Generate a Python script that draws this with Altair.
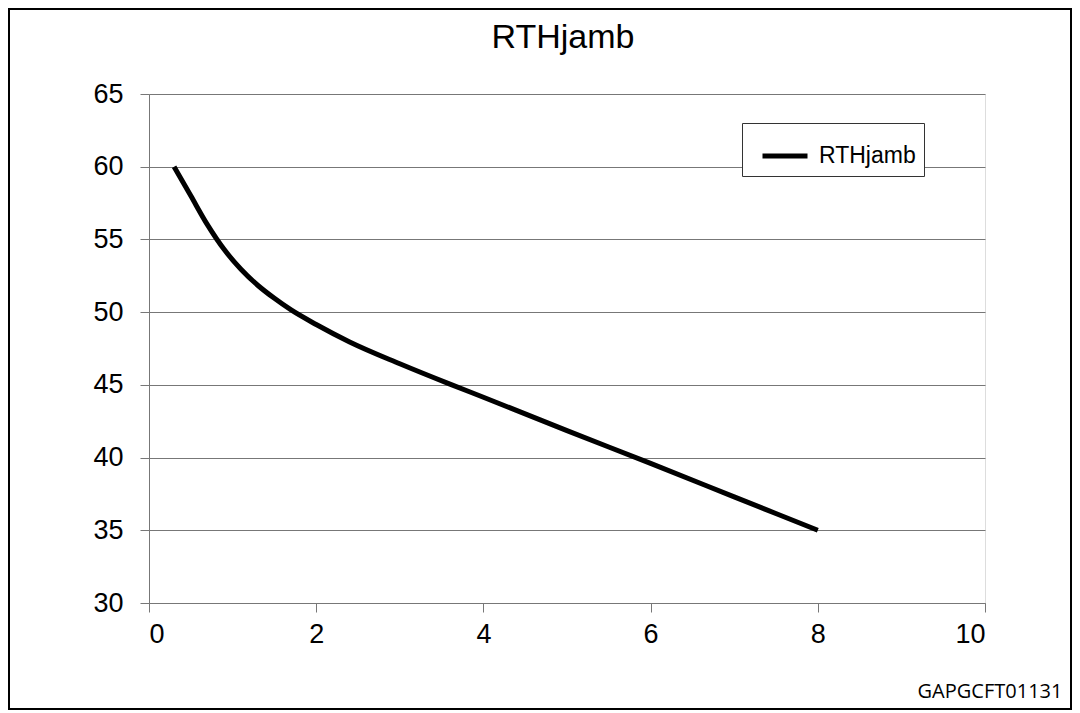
import altair as alt
import pandas as pd

x_vals = [0.3, 0.5, 0.7, 0.9, 1.1, 1.3, 1.5, 1.7, 2.0, 2.4, 3.0, 3.6, 4.0, 5.0, 6.0, 7.0, 8.0]
y_vals = [60, 58.0, 56.0, 54.3, 52.95, 51.85, 50.95, 50.15, 49.15, 47.95, 46.45, 45.05, 44.15, 41.85, 39.6, 37.3, 35]
series = ["RTHjamb"] * len(x_vals)
title_text = ["RTHjamb"]
footer_text = ["GAPGCFT01131"]

df = pd.DataFrame({"x": x_vals, "y": y_vals, "series": series})

W, H = 836, 509
FONT = "Liberation Sans"

line = alt.Chart(df).mark_line(strokeWidth=5, color="black", interpolate="monotone").encode(
    x=alt.X("x:Q", scale=alt.Scale(domain=[0, 10], nice=False),
            axis=alt.Axis(values=[0, 2, 4, 6, 8, 10], title=None, grid=False,
                          tickSize=9, tickColor="#777", domainColor="#777",
                          labelFontSize=27, labelFont=FONT, labelColor="black",
                          labelPadding=9)),
    y=alt.Y("y:Q", scale=alt.Scale(domain=[30, 65], nice=False, zero=False),
            axis=alt.Axis(values=[30, 35, 40, 45, 50, 55, 60, 65], title=None,
                          grid=True, gridColor="#777", gridOpacity=1,
                          tickSize=9, tickColor="#777", domainColor="#777",
                          labelFontSize=27, labelFont=FONT, labelColor="black",
                          labelPadding=17)),
    stroke=alt.Stroke("series:N", scale=alt.Scale(range=["black"]),
                      legend=alt.Legend(title=None, orient="none", legendX=593, legendY=29,
                                        strokeColor="#333", padding=8, fillColor="white",
                                        symbolType="stroke", symbolSize=2025,
                                        symbolStrokeWidth=5, symbolStrokeColor="black",
                                        symbolOffset=10,
                                        labelFontSize=23, labelFont=FONT, labelColor="black",
                                        labelOffset=9)),
)

border = alt.Chart(pd.DataFrame({"k": [0]})).mark_rect(
    fill=None, stroke="black", strokeWidth=2, clip=False
).encode(
    x=alt.value(-140), x2=alt.value(W + 86),
    y=alt.value(-85), y2=alt.value(H + 106),
)

title = alt.Chart(pd.DataFrame({"t": title_text})).mark_text(
    font=FONT, fontSize=34, color="black", align="center", baseline="alphabetic", clip=False
).encode(
    text="t:N", x=alt.value(414), y=alt.value(-46),
)

footer = alt.Chart(pd.DataFrame({"t": footer_text})).mark_text(
    font="Open Sans", fontSize=20, color="black", align="center", baseline="middle", clip=False
).encode(
    text="t:N", x=alt.value(841), y=alt.value(598),
)

chart = alt.layer(border, title, line, footer).properties(
    width=W, height=H,
    autosize=alt.AutoSizeParams(type="none"),
    padding={"left": 141, "top": 86, "right": 87, "bottom": 107},
).configure_view(stroke="#777", strokeWidth=1).configure(background="white")

chart.save("out.html", embed_options={"renderer": "svg", "actions": False})
